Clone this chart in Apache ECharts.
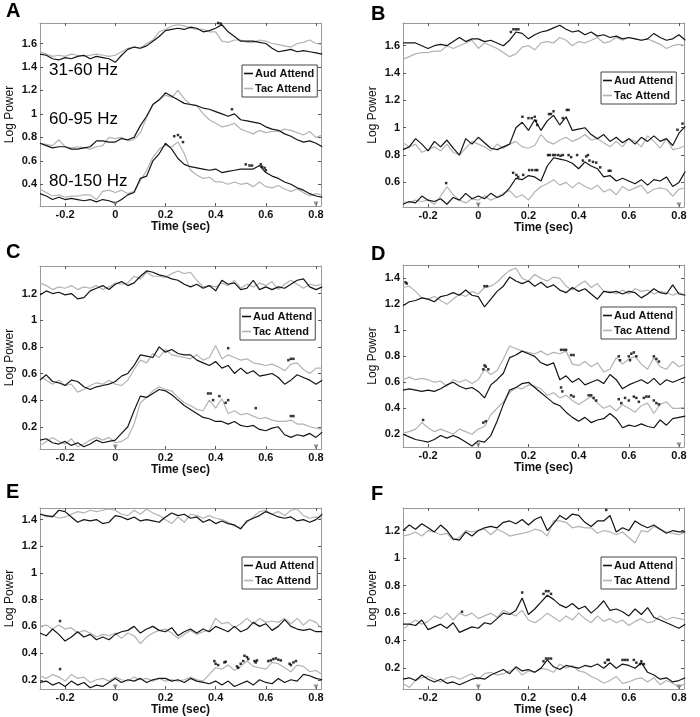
<!DOCTYPE html>
<html><head><meta charset="utf-8">
<script src="https://cdn.jsdelivr.net/npm/echarts@6/dist/echarts.min.js"></script>
<style>html,body{margin:0;padding:0;background:#fff}#c{width:700px;height:717px}</style>
</head><body><div id="c"></div>
<script>
const times = [-0.3,-0.275,-0.25,-0.225,-0.2,-0.175,-0.15,-0.125,-0.1,-0.075,-0.05,-0.025,0,0.025,0.05,0.075,0.1,0.125,0.15,0.175,0.2,0.225,0.25,0.275,0.3,0.325,0.35,0.375,0.4,0.425,0.45,0.475,0.5,0.525,0.55,0.575,0.6,0.625,0.65,0.675,0.7,0.725,0.75,0.775,0.8,0.825];
const xTicks = [-0.2,0,0.2,0.4,0.6,0.8];
const markerTimes = [0,0.8];
const legendNames = ['Aud Attend','Tac Attend'];
const bandLabels = ['31-60 Hz','60-95 Hz','80-150 Hz'];
const panelLetters = ['A','B','C','D','E','F'];

// Panel A
const aTopAud=[1.51,1.50,1.47,1.46,1.48,1.47,1.49,1.50,1.47,1.49,1.48,1.47,1.44,1.50,1.55,1.57,1.56,1.58,1.62,1.66,1.71,1.72,1.73,1.72,1.74,1.73,1.70,1.71,1.73,1.76,1.70,1.66,1.62,1.62,1.62,1.61,1.60,1.56,1.53,1.54,1.55,1.53,1.54,1.53,1.52,1.51];
const aTopTac=[1.53,1.51,1.49,1.50,1.49,1.51,1.50,1.49,1.50,1.51,1.50,1.49,1.50,1.53,1.56,1.57,1.56,1.60,1.63,1.70,1.72,1.75,1.76,1.75,1.73,1.72,1.72,1.70,1.70,1.62,1.61,1.63,1.63,1.61,1.61,1.63,1.62,1.60,1.59,1.58,1.57,1.60,1.61,1.63,1.60,1.59];
const aMidAud=[0.75,0.73,0.71,0.72,0.72,0.70,0.70,0.71,0.72,0.77,0.77,0.76,0.76,0.79,0.78,0.80,0.90,0.98,1.08,1.12,1.18,1.15,1.12,1.09,1.08,1.07,1.05,1.04,1.02,1.00,0.98,1.00,0.95,0.94,0.93,0.92,0.89,0.87,0.86,0.83,0.81,0.78,0.76,0.77,0.75,0.72];
const aMidTac=[0.75,0.74,0.73,0.78,0.72,0.71,0.72,0.71,0.70,0.72,0.73,0.80,0.79,0.80,0.77,0.78,0.84,0.97,1.08,1.12,1.16,1.14,1.20,1.13,1.08,1.07,1.00,0.95,0.92,0.89,0.90,0.92,0.87,0.85,0.83,0.86,0.84,0.85,0.85,0.87,0.86,0.84,0.82,0.85,0.80,0.82];
const aBotAud=[0.32,0.30,0.27,0.29,0.27,0.28,0.27,0.26,0.27,0.25,0.27,0.26,0.24,0.27,0.31,0.33,0.45,0.47,0.60,0.66,0.75,0.70,0.62,0.57,0.55,0.54,0.53,0.52,0.53,0.50,0.51,0.52,0.53,0.53,0.53,0.56,0.50,0.47,0.45,0.42,0.40,0.37,0.35,0.32,0.30,0.29];
const aBotTac=[0.36,0.33,0.30,0.31,0.29,0.30,0.30,0.31,0.31,0.27,0.34,0.35,0.33,0.35,0.32,0.34,0.43,0.52,0.63,0.70,0.73,0.72,0.76,0.66,0.52,0.48,0.45,0.46,0.42,0.42,0.40,0.42,0.40,0.41,0.38,0.42,0.38,0.37,0.39,0.36,0.34,0.36,0.33,0.30,0.32,0.31];
const aStars=[[0.41,1.775],[0.42,1.77],[0.465,1.04],[0.235,0.81],[0.25,0.82],[0.26,0.80],[0.27,0.76],[0.52,0.57],[0.535,0.56],[0.545,0.56],[0.58,0.57],[0.585,0.55],[0.595,0.54],[0.60,0.52]];

// Panel B
const bTopAud=[1.62,1.62,1.62,1.60,1.58,1.60,1.61,1.60,1.63,1.66,1.63,1.65,1.65,1.63,1.64,1.62,1.60,1.64,1.70,1.69,1.65,1.68,1.70,1.71,1.73,1.75,1.72,1.70,1.71,1.68,1.70,1.67,1.68,1.66,1.67,1.65,1.66,1.65,1.64,1.65,1.69,1.66,1.64,1.65,1.68,1.64];
const bTopTac=[1.50,1.52,1.54,1.55,1.55,1.56,1.56,1.60,1.58,1.60,1.62,1.64,1.58,1.62,1.60,1.58,1.55,1.52,1.54,1.59,1.60,1.57,1.62,1.63,1.62,1.66,1.64,1.60,1.63,1.62,1.64,1.66,1.62,1.63,1.66,1.64,1.66,1.65,1.64,1.65,1.63,1.61,1.58,1.60,1.61,1.60];
const bMidAud=[0.84,0.86,0.92,0.88,0.83,0.90,0.86,0.91,0.85,0.80,0.92,0.88,0.93,0.89,0.85,0.84,0.86,0.88,1.00,1.04,0.98,1.06,0.98,1.05,1.09,1.02,1.08,0.98,0.99,1.00,0.95,0.92,0.95,0.90,0.93,0.89,0.92,0.88,0.93,0.90,0.94,0.90,0.92,0.87,0.96,1.01];
const bMidTac=[0.89,0.86,0.88,0.82,0.84,0.86,0.83,0.88,0.82,0.80,0.85,0.90,0.88,0.86,0.83,0.88,0.85,0.88,0.90,0.86,0.85,0.87,0.95,0.90,0.88,0.91,0.93,0.90,0.92,0.95,0.91,0.92,0.89,0.86,0.90,0.86,0.92,0.90,0.86,0.94,0.90,0.85,0.92,0.84,0.85,0.87];
const bBotAud=[0.44,0.46,0.45,0.50,0.47,0.46,0.48,0.44,0.49,0.47,0.52,0.48,0.50,0.48,0.52,0.49,0.51,0.56,0.63,0.62,0.65,0.64,0.61,0.72,0.78,0.77,0.76,0.74,0.70,0.75,0.72,0.70,0.64,0.65,0.61,0.63,0.61,0.59,0.62,0.58,0.62,0.61,0.64,0.57,0.60,0.68];
const bBotTac=[0.46,0.45,0.47,0.46,0.47,0.44,0.50,0.57,0.51,0.47,0.45,0.48,0.47,0.50,0.47,0.49,0.52,0.54,0.49,0.51,0.47,0.53,0.57,0.59,0.62,0.58,0.60,0.56,0.60,0.57,0.55,0.58,0.53,0.55,0.51,0.57,0.54,0.56,0.58,0.52,0.55,0.56,0.55,0.50,0.55,0.56];
const bStars=[[0.13,1.70],[0.14,1.72],[0.15,1.72],[0.16,1.72],[0.176,1.08],[0.20,1.07],[0.213,1.07],[0.225,1.08],[0.23,1.05],[0.235,1.02],[0.282,1.10],[0.29,1.10],[0.30,1.12],[0.337,1.07],[0.353,1.13],[0.36,1.13],[0.794,0.985],[0.814,1.03],[0.139,0.67],[0.152,0.655],[0.159,0.64],[0.179,0.655],[0.203,0.69],[0.215,0.69],[0.228,0.69],[0.235,0.69],[0.278,0.80],[0.285,0.80],[0.298,0.80],[0.306,0.80],[0.318,0.80],[0.328,0.795],[0.337,0.80],[0.36,0.80],[0.37,0.785],[0.394,0.80],[0.417,0.76],[0.43,0.79],[0.437,0.80],[0.443,0.76],[0.457,0.75],[0.47,0.745],[0.486,0.71],[0.52,0.685],[0.527,0.685],[-0.128,0.595]];

// Panel C
const cTopAud=[1.19,1.22,1.20,1.21,1.19,1.20,1.16,1.17,1.22,1.24,1.26,1.23,1.27,1.29,1.26,1.28,1.33,1.37,1.36,1.34,1.33,1.31,1.30,1.27,1.25,1.27,1.24,1.26,1.22,1.30,1.27,1.28,1.23,1.24,1.30,1.23,1.25,1.23,1.25,1.24,1.27,1.30,1.31,1.25,1.23,1.25];
const cTopTac=[1.28,1.26,1.23,1.25,1.24,1.26,1.23,1.25,1.24,1.26,1.23,1.25,1.28,1.27,1.28,1.33,1.31,1.36,1.33,1.33,1.32,1.35,1.37,1.35,1.36,1.30,1.25,1.26,1.25,1.28,1.26,1.30,1.24,1.27,1.25,1.28,1.26,1.29,1.23,1.27,1.30,1.27,1.24,1.27,1.26,1.27];
const cMidAud=[0.55,0.59,0.54,0.53,0.51,0.55,0.54,0.50,0.48,0.50,0.51,0.52,0.54,0.58,0.60,0.66,0.74,0.73,0.72,0.80,0.76,0.78,0.75,0.74,0.74,0.70,0.68,0.66,0.69,0.64,0.66,0.60,0.64,0.60,0.62,0.58,0.59,0.60,0.57,0.52,0.55,0.59,0.57,0.55,0.52,0.55];
const cMidTac=[0.58,0.55,0.52,0.55,0.51,0.52,0.46,0.48,0.51,0.53,0.52,0.55,0.52,0.51,0.55,0.63,0.70,0.68,0.75,0.72,0.78,0.74,0.73,0.72,0.71,0.74,0.70,0.72,0.81,0.71,0.74,0.72,0.70,0.71,0.68,0.67,0.66,0.67,0.65,0.62,0.67,0.68,0.63,0.60,0.64,0.64];
const cBotAud=[0.10,0.11,0.08,0.07,0.09,0.06,0.08,0.05,0.07,0.10,0.08,0.09,0.10,0.15,0.20,0.32,0.43,0.42,0.45,0.48,0.47,0.44,0.40,0.36,0.33,0.30,0.27,0.26,0.24,0.24,0.22,0.24,0.21,0.20,0.21,0.18,0.17,0.19,0.20,0.14,0.12,0.14,0.13,0.15,0.12,0.16];
const cBotTac=[0.06,0.09,0.12,0.09,0.07,0.11,0.05,0.07,0.10,0.12,0.10,0.12,0.08,0.09,0.12,0.22,0.38,0.42,0.47,0.50,0.48,0.47,0.42,0.38,0.36,0.33,0.32,0.40,0.34,0.41,0.30,0.32,0.29,0.30,0.28,0.26,0.27,0.25,0.24,0.24,0.25,0.22,0.22,0.20,0.19,0.18];
const cStars=[[0.45,0.79],[0.69,0.70],[0.70,0.71],[0.71,0.71],[0.37,0.45],[0.38,0.45],[0.39,0.40],[0.415,0.43],[0.44,0.38],[0.45,0.40],[0.56,0.34],[0.70,0.28],[0.71,0.28]];

// Panel D
const dTopAud=[1.19,1.22,1.23,1.25,1.24,1.22,1.26,1.27,1.29,1.27,1.31,1.27,1.26,1.18,1.24,1.30,1.34,1.41,1.38,1.36,1.38,1.34,1.37,1.33,1.35,1.31,1.29,1.33,1.30,1.32,1.28,1.24,1.30,1.29,1.30,1.28,1.30,1.29,1.25,1.28,1.32,1.29,1.28,1.35,1.28,1.27];
const dTopTac=[1.33,1.34,1.30,1.25,1.24,1.26,1.23,1.20,1.24,1.28,1.26,1.30,1.28,1.33,1.34,1.37,1.42,1.46,1.48,1.40,1.38,1.43,1.40,1.38,1.41,1.40,1.34,1.31,1.35,1.38,1.33,1.36,1.30,1.30,1.28,1.31,1.28,1.32,1.30,1.31,1.28,1.30,1.29,1.27,1.29,1.27];
const dMidAud=[0.54,0.55,0.54,0.53,0.54,0.53,0.55,0.58,0.60,0.57,0.55,0.56,0.53,0.48,0.58,0.62,0.67,0.79,0.81,0.84,0.82,0.80,0.75,0.73,0.75,0.62,0.65,0.60,0.63,0.58,0.60,0.62,0.59,0.66,0.62,0.55,0.58,0.60,0.62,0.59,0.63,0.58,0.62,0.60,0.62,0.64];
const dMidTac=[0.62,0.64,0.62,0.63,0.62,0.60,0.61,0.57,0.62,0.60,0.62,0.59,0.62,0.70,0.66,0.69,0.78,0.88,0.86,0.84,0.83,0.82,0.84,0.81,0.83,0.82,0.84,0.74,0.73,0.76,0.72,0.75,0.68,0.70,0.79,0.74,0.78,0.80,0.74,0.70,0.79,0.72,0.70,0.76,0.72,0.74];
const dBotAud=[0.20,0.18,0.16,0.15,0.14,0.16,0.19,0.17,0.19,0.17,0.14,0.11,0.15,0.14,0.19,0.30,0.43,0.54,0.56,0.59,0.60,0.56,0.52,0.48,0.44,0.42,0.37,0.33,0.30,0.33,0.29,0.31,0.32,0.36,0.32,0.25,0.27,0.26,0.28,0.26,0.25,0.31,0.27,0.32,0.33,0.34];
const dBotTac=[0.21,0.22,0.24,0.29,0.25,0.22,0.24,0.22,0.20,0.24,0.22,0.20,0.24,0.26,0.35,0.40,0.45,0.52,0.56,0.55,0.58,0.57,0.55,0.50,0.52,0.48,0.50,0.46,0.43,0.46,0.49,0.44,0.40,0.42,0.38,0.43,0.40,0.37,0.42,0.44,0.36,0.43,0.45,0.40,0.40,0.41];
const dStars=[[-0.29,1.37],[-0.285,1.36],[0.025,1.34],[0.035,1.34],[0.02,0.70],[0.025,0.73],[0.03,0.72],[0.04,0.70],[0.33,0.85],[0.34,0.85],[0.35,0.85],[0.37,0.81],[0.38,0.81],[0.56,0.80],[0.565,0.77],[0.6,0.80],[0.61,0.82],[0.62,0.83],[0.63,0.80],[0.605,0.77],[0.70,0.80],[0.71,0.78],[0.72,0.76],[-0.22,0.31],[0.02,0.29],[0.03,0.30],[0.33,0.56],[0.335,0.53],[0.37,0.50],[0.38,0.49],[0.44,0.50],[0.45,0.50],[0.46,0.48],[0.47,0.46],[0.56,0.47],[0.57,0.44],[0.585,0.48],[0.60,0.46],[0.62,0.49],[0.63,0.48],[0.64,0.45],[0.66,0.48],[0.67,0.49],[0.68,0.49],[0.70,0.46],[0.71,0.44],[0.72,0.43]];

// Panel E
const eTopAud=[1.44,1.43,1.42,1.47,1.46,1.42,1.38,1.40,1.39,1.40,1.37,1.38,1.43,1.42,1.40,1.42,1.39,1.40,1.39,1.38,1.42,1.45,1.43,1.44,1.41,1.42,1.38,1.40,1.37,1.39,1.37,1.36,1.33,1.39,1.41,1.43,1.46,1.44,1.42,1.41,1.42,1.39,1.40,1.38,1.40,1.44];
const eTopTac=[1.45,1.42,1.43,1.41,1.42,1.44,1.46,1.45,1.47,1.46,1.47,1.48,1.47,1.44,1.43,1.47,1.44,1.48,1.45,1.43,1.40,1.37,1.42,1.38,1.44,1.43,1.41,1.43,1.41,1.40,1.38,1.35,1.34,1.38,1.42,1.46,1.47,1.44,1.46,1.43,1.47,1.48,1.43,1.41,1.42,1.41];
const eMidAud=[0.55,0.53,0.58,0.54,0.49,0.52,0.56,0.52,0.54,0.50,0.52,0.50,0.54,0.56,0.57,0.60,0.55,0.58,0.60,0.57,0.56,0.59,0.53,0.56,0.58,0.55,0.58,0.56,0.60,0.58,0.56,0.60,0.56,0.58,0.63,0.60,0.62,0.57,0.60,0.65,0.60,0.58,0.57,0.58,0.56,0.56];
const eMidTac=[0.60,0.61,0.58,0.61,0.58,0.59,0.55,0.57,0.55,0.52,0.54,0.53,0.55,0.51,0.55,0.53,0.47,0.52,0.55,0.57,0.58,0.55,0.51,0.54,0.57,0.54,0.56,0.57,0.66,0.62,0.63,0.59,0.62,0.66,0.62,0.66,0.63,0.64,0.63,0.66,0.62,0.66,0.61,0.65,0.63,0.58];
const eBotAud=[0.18,0.19,0.16,0.18,0.15,0.19,0.16,0.18,0.14,0.16,0.15,0.18,0.21,0.18,0.20,0.19,0.21,0.18,0.20,0.21,0.21,0.19,0.20,0.18,0.21,0.19,0.18,0.17,0.19,0.16,0.19,0.15,0.17,0.19,0.16,0.20,0.18,0.17,0.21,0.18,0.20,0.19,0.24,0.23,0.21,0.20];
const eBotTac=[0.23,0.21,0.24,0.22,0.19,0.24,0.21,0.22,0.18,0.20,0.21,0.19,0.22,0.20,0.19,0.22,0.20,0.21,0.19,0.21,0.19,0.20,0.19,0.20,0.22,0.20,0.19,0.24,0.29,0.28,0.31,0.27,0.30,0.34,0.30,0.29,0.28,0.33,0.32,0.29,0.26,0.31,0.30,0.26,0.27,0.24];
const eStars=[[-0.22,0.64],[-0.22,0.28],[0.395,0.34],[0.40,0.32],[0.41,0.31],[0.435,0.33],[0.44,0.335],[0.485,0.30],[0.49,0.29],[0.50,0.32],[0.51,0.34],[0.515,0.38],[0.525,0.37],[0.53,0.355],[0.555,0.34],[0.56,0.33],[0.565,0.345],[0.61,0.34],[0.62,0.345],[0.63,0.355],[0.64,0.36],[0.65,0.35],[0.66,0.345],[0.695,0.32],[0.70,0.31],[0.71,0.33],[0.72,0.34]];

// Panel F
const fTopAud=[1.20,1.24,1.21,1.25,1.22,1.19,1.24,1.20,1.14,1.13,1.19,1.16,1.20,1.22,1.23,1.22,1.26,1.27,1.25,1.28,1.24,1.28,1.30,1.20,1.25,1.31,1.28,1.32,1.31,1.26,1.23,1.27,1.27,1.31,1.19,1.22,1.20,1.27,1.24,1.22,1.24,1.21,1.18,1.20,1.19,1.19];
const fTopTac=[1.16,1.17,1.19,1.16,1.20,1.19,1.17,1.18,1.13,1.15,1.20,1.19,1.20,1.21,1.17,1.21,1.19,1.16,1.17,1.18,1.19,1.21,1.20,1.16,1.27,1.27,1.26,1.22,1.23,1.22,1.22,1.18,1.20,1.19,1.17,1.19,1.15,1.11,1.20,1.19,1.23,1.21,1.19,1.18,1.17,1.19];
const fMidAud=[0.52,0.52,0.51,0.55,0.48,0.50,0.52,0.49,0.53,0.46,0.48,0.50,0.49,0.53,0.52,0.56,0.60,0.59,0.62,0.71,0.59,0.63,0.68,0.73,0.70,0.66,0.64,0.67,0.63,0.65,0.60,0.64,0.69,0.62,0.63,0.61,0.58,0.63,0.59,0.64,0.57,0.55,0.53,0.51,0.49,0.52];
const fMidTac=[0.48,0.52,0.55,0.52,0.54,0.58,0.56,0.60,0.55,0.60,0.58,0.60,0.56,0.58,0.60,0.57,0.62,0.60,0.58,0.62,0.55,0.53,0.56,0.60,0.57,0.54,0.58,0.55,0.60,0.56,0.53,0.58,0.54,0.56,0.53,0.55,0.51,0.54,0.56,0.53,0.54,0.58,0.55,0.57,0.56,0.55];
const fBotAud=[0.12,0.13,0.11,0.15,0.12,0.10,0.12,0.09,0.10,0.08,0.10,0.12,0.13,0.12,0.15,0.17,0.19,0.16,0.21,0.18,0.19,0.17,0.20,0.26,0.21,0.19,0.22,0.21,0.20,0.22,0.21,0.23,0.20,0.24,0.20,0.23,0.22,0.20,0.24,0.17,0.15,0.12,0.13,0.10,0.11,0.13];
const fBotTac=[0.09,0.06,0.11,0.13,0.14,0.12,0.10,0.13,0.14,0.12,0.14,0.16,0.12,0.16,0.17,0.15,0.16,0.18,0.20,0.15,0.18,0.17,0.20,0.19,0.17,0.23,0.20,0.22,0.18,0.17,0.14,0.12,0.09,0.11,0.14,0.09,0.10,0.12,0.13,0.10,0.13,0.08,0.11,0.09,0.06,0.09];
const fStars=[[0.51,1.35],[-0.065,0.61],[0.175,0.75],[0.26,0.74],[0.27,0.76],[0.28,0.76],[0.29,0.74],[0.26,0.25],[0.27,0.27],[0.28,0.27],[0.29,0.27],[0.505,0.24],[0.515,0.26],[0.52,0.26],[0.575,0.26],[0.585,0.26],[0.595,0.26],[0.62,0.26],[0.63,0.24],[0.645,0.23],[0.65,0.25],[0.66,0.23]];

const yTicksA=[0.4,0.6,0.8,1,1.2,1.4,1.6];
const yTicksB=[0.6,0.8,1,1.2,1.4,1.6];
const yTicksC=[0.2,0.4,0.6,0.8,1,1.2];
const yTicksD=[0.2,0.4,0.6,0.8,1,1.2,1.4];
const yTicksE=[0.2,0.4,0.6,0.8,1,1.2,1.4];
const yTicksF=[0.2,0.4,0.6,0.8,1,1.2];

// layout (not data)
const panels = [
  {grid:{left:40,top:23,width:281,height:183}, yr:[0.215,1.775], yt:yTicksA, lines:[[aTopAud,aTopTac],[aMidAud,aMidTac],[aBotAud,aBotTac]], stars:aStars, leg:[242,65], letter:[6,1]},
  {grid:{left:403,top:23,width:281,height:184}, yr:[0.42,1.766], yt:yTicksB, lines:[[bTopAud,bTopTac],[bMidAud,bMidTac],[bBotAud,bBotTac]], stars:bStars, leg:[601,72], letter:[371,4]},
  {grid:{left:40,top:266,width:281,height:183}, yr:[0.033,1.407], yt:yTicksC, lines:[[cTopAud,cTopTac],[cMidAud,cMidTac],[cBotAud,cBotTac]], stars:cStars, leg:[240,308], letter:[6,242]},
  {grid:{left:403,top:265,width:281,height:182}, yr:[0.102,1.503], yt:yTicksD, lines:[[dTopAud,dTopTac],[dMidAud,dMidTac],[dBotAud,dBotTac]], stars:dStars, leg:[601,307], letter:[371,244]},
  {grid:{left:40,top:508,width:281,height:182}, yr:[0.13,1.487], yt:yTicksE, lines:[[eTopAud,eTopTac],[eMidAud,eMidTac],[eBotAud,eBotTac]], stars:eStars, leg:[242,557], letter:[6,482]},
  {grid:{left:403,top:508,width:281,height:182}, yr:[0.048,1.364], yt:yTicksF, lines:[[fTopAud,fTopTac],[fMidAud,fMidTac],[fBotAud,fBotTac]], stars:fStars, leg:[601,557], letter:[371,484]}
];

const FONT = 'Arial, "Liberation Sans", sans-serif';
const fmt = v => String(Math.round(v*100)/100);
const AUD = '#141414', TAC = '#b3b3b3', FRAME = '#9a9a9a';

const grids=[], xAxes=[], yAxes=[], series=[], legends=[], graphics=[];
panels.forEach((p,i)=>{
  grids.push(Object.assign({containLabel:false}, p.grid));
  const tickStyle = {lineStyle:{color:'#555',width:1}};
  xAxes.push({type:'value', gridIndex:i, min:-0.3, max:0.82, position:'bottom',
    axisLine:{show:true,onZero:false,lineStyle:{color:FRAME,width:1}},
    axisTick:Object.assign({show:true,inside:true,length:3,customValues:xTicks},tickStyle),
    axisLabel:{customValues:xTicks,formatter:fmt,color:'#111',fontWeight:'bold',fontSize:11,fontFamily:FONT,margin:3},
    splitLine:{show:false}, name:'Time (sec)', nameLocation:'middle', nameGap:14,
    nameTextStyle:{color:'#111',fontWeight:'bold',fontSize:12,fontFamily:FONT}});
  xAxes.push({type:'value', gridIndex:i, min:-0.3, max:0.82, position:'top',
    axisLine:{show:true,onZero:false,lineStyle:{color:FRAME,width:1}},
    axisTick:Object.assign({show:true,inside:true,length:3,customValues:xTicks},tickStyle),
    axisLabel:{show:false}, splitLine:{show:false}});
  yAxes.push({type:'value', gridIndex:i, min:p.yr[0], max:p.yr[1], position:'left',
    axisLine:{show:true,onZero:false,lineStyle:{color:FRAME,width:1}},
    axisTick:Object.assign({show:true,inside:true,length:3,customValues:p.yt},tickStyle),
    axisLabel:{customValues:p.yt,formatter:fmt,color:'#111',fontWeight:'bold',fontSize:11,fontFamily:FONT,margin:3},
    splitLine:{show:false}, name:'Log Power', nameLocation:'middle', nameGap:24,
    nameTextStyle:{color:'#111',fontSize:12,fontFamily:FONT}});
  yAxes.push({type:'value', gridIndex:i, min:p.yr[0], max:p.yr[1], position:'right',
    axisLine:{show:true,onZero:false,lineStyle:{color:FRAME,width:1}},
    axisTick:Object.assign({show:true,inside:true,length:3,customValues:p.yt},tickStyle),
    axisLabel:{show:false}, splitLine:{show:false}});
  const xi=2*i, yi=2*i;
  p.lines.forEach(pair=>{
    series.push({type:'line', name:legendNames[1], xAxisIndex:xi, yAxisIndex:yi, symbol:'none', clip:true,
      data:times.map((t,k)=>[t,pair[1][k]]), lineStyle:{color:TAC,width:1.2}, itemStyle:{color:TAC}, z:2, silent:true, animation:false});
  });
  p.lines.forEach(pair=>{
    series.push({type:'line', name:legendNames[0], xAxisIndex:xi, yAxisIndex:yi, symbol:'none', clip:true,
      data:times.map((t,k)=>[t,pair[0][k]]), lineStyle:{color:AUD,width:1.2}, itemStyle:{color:AUD}, z:3, silent:true, animation:false});
  });
  series.push({type:'scatter', name:'sig', xAxisIndex:xi, yAxisIndex:yi, symbol:'rect', symbolSize:2.5,
    data:p.stars, itemStyle:{color:'#000'}, z:4, silent:true, animation:false, clip:false});
  series.push({type:'scatter', name:'marker', xAxisIndex:xi, yAxisIndex:yi, symbol:'triangle', symbolRotate:180, symbolSize:5,
    symbolOffset:[0,-2], data:markerTimes.map(t=>[t,p.yr[0]]), itemStyle:{color:'#777'}, z:4, silent:true, animation:false, clip:false});
  legends.push({show:true, left:p.leg[0], top:p.leg[1], orient:'vertical', data:legendNames, icon:'rect',
    itemWidth:9, itemHeight:1.6, itemGap:4, padding:[3,3,3,2], borderColor:'#444', borderWidth:1, backgroundColor:'#fff',
    selectedMode:false, textStyle:{fontSize:11,fontWeight:'bold',fontFamily:FONT,color:'#111',padding:[0,0,0,-3]}});
  graphics.push({type:'text', left:p.letter[0], top:p.letter[1], style:{text:panelLetters[i], font:'bold 20px '+FONT, fill:'#000'}});
});
const bandTops=[62,111,173];
bandLabels.forEach((t,k)=>graphics.push({type:'text', left:49, top:bandTops[k], z:10, style:{text:t, font:'17px '+FONT, fill:'#000'}}));

const chart = echarts.init(document.getElementById('c'), null, {renderer:'canvas'});
chart.setOption({animation:false, backgroundColor:'#fff', grid:grids, xAxis:xAxes, yAxis:yAxes, series, legend:legends, graphic:graphics});
</script></body></html>
